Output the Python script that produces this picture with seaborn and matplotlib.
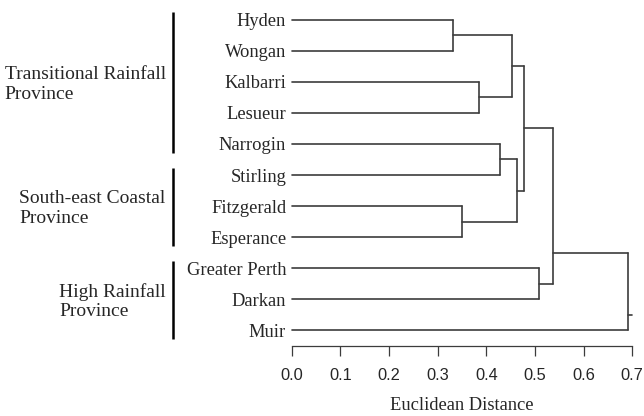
import numpy as np
import pandas as pd
import matplotlib
matplotlib.use("Agg")
import matplotlib.pyplot as plt
import seaborn as sns

# ---------------- data ----------------
leaf_labels = ["Hyden", "Wongan", "Kalbarri", "Lesueur", "Narrogin", "Stirling",
               "Fitzgerald", "Esperance", "Greater Perth", "Darkan", "Muir"]
# merges: cluster ids 0..10 are leaves, merge k creates id 11+k
merge_left = [0, 2, 11, 4, 6, 14, 13, 8, 17, 19]
merge_right = [1, 3, 12, 5, 7, 15, 16, 9, 18, 10]
merge_height = [0.332, 0.384, 0.452, 0.428, 0.349, 0.464, 0.478, 0.508, 0.536, 0.691]

province_names = ["Transitional Rainfall\nProvince", "South-east Coastal\nProvince",
                  "High Rainfall\nProvince"]
province_first = [0, 5, 8]
province_last = [4, 7, 10]

x_ticks = [0.0, 0.1, 0.2, 0.3, 0.4, 0.5, 0.6, 0.7]
x_label = "Euclidean Distance"

# ---------------- layout ----------------
node_frac = [0.5] * 8 + [0.8, 0.8]   # where the link leaves each merge bar
root_stub = 0.009
W, H = 644, 416
line_col = "#3c3c3c"

sns.set_theme(style="white")
plt.rcParams["font.family"] = ["Liberation Serif", "DejaVu Serif"]

fig = plt.figure(figsize=(W / 100, H / 100), dpi=100)
x0_px, x1_px = 291.7, 632.3
ytop_px, ybot_px = 4.3, 345.7
ax = fig.add_axes([x0_px / W, 1 - ybot_px / H, (x1_px - x0_px) / W, (ybot_px - ytop_px) / H])

# build dendrogram segments from the merge table
n = len(leaf_labels)
pos = {i: float(i) for i in range(n)}
hgt = {i: 0.0 for i in range(n)}
rows = []
seg = 0
for k, (a, b, h) in enumerate(zip(merge_left, merge_right, merge_height)):
    ya, yb = pos[a], pos[b]
    for (xs, ys) in [((hgt[a], h), (ya, ya)), ((h, h), (ya, yb)), ((hgt[b], h), (yb, yb))]:
        for xx, yy in zip(xs, ys):
            rows.append({"x": xx, "y": yy, "seg": seg})
        seg += 1
    cid = n + k
    pos[cid] = ya + node_frac[k] * (yb - ya)
    hgt[cid] = h
root = n + len(merge_height) - 1
for xx in (hgt[root], hgt[root] + root_stub):
    rows.append({"x": xx, "y": pos[root], "seg": seg})
df = pd.DataFrame(rows)

sns.lineplot(data=df, x="x", y="y", units="seg", estimator=None, sort=False,
             color=line_col, lw=1.2, ax=ax, legend=False, clip_on=False)

ax.set_xlim(0, 0.7)
ax.set_ylim(n - 0.5, -0.5)
ax.set_xticks(x_ticks)
ax.set_xticklabels([f"{t:.1f}" for t in x_ticks], family=["Liberation Sans"], fontsize=11.8)
ax.set_yticks(range(n))
ax.set_yticklabels(leaf_labels, fontsize=13.3)
ax.tick_params(axis="y", length=0, pad=4)
ax.tick_params(axis="x", direction="out", length=7.5, width=0.9, color=line_col,
               pad=8.5, bottom=True)
for s in ["top", "right", "left"]:
    ax.spines[s].set_visible(False)
ax.spines["bottom"].set_color(line_col)
ax.spines["bottom"].set_linewidth(0.9)
ax.set_xlabel(x_label, fontsize=13.3, labelpad=10)
ax.set_ylabel("")

# province brackets
bar_x = -0.244
text_x = -0.259
for name, f, l in zip(province_names, province_first, province_last):
    ax.plot([bar_x, bar_x], [f - 0.24, l + 0.30], color="black", lw=1.8, clip_on=False,
            solid_capstyle="butt")
    ax.text(text_x, (f + l) / 2 + 0.08, name, ha="right", va="center",
            multialignment="left", fontsize=14, linespacing=1.2)

fig.savefig("out.png", dpi=100)
